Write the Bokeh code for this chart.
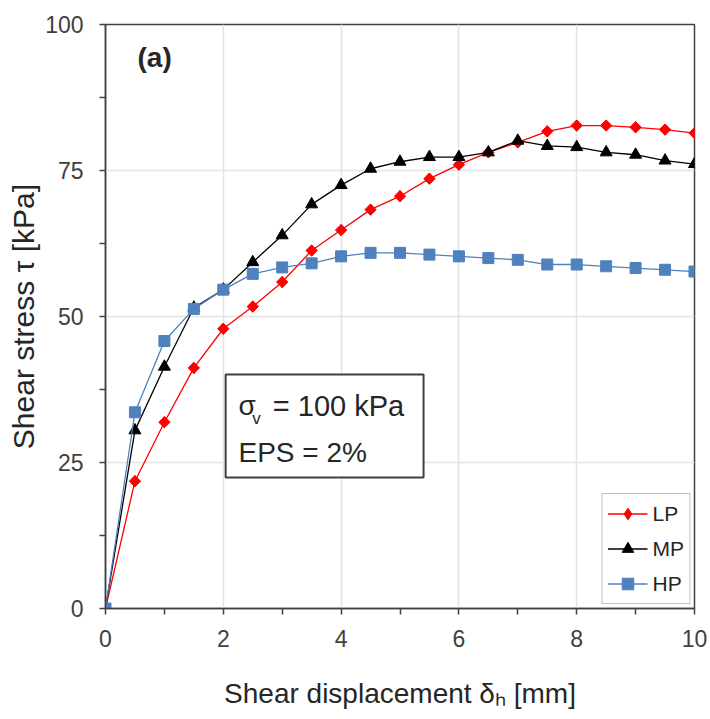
from bokeh.plotting import figure
from bokeh.models import FixedTicker, Label, BoxAnnotation, Legend, LegendItem, Range1d
from bokeh.embed import file_html
from bokeh.resources import INLINE

# ---- data ----
disp = [0, 0.5, 1, 1.5, 2, 2.5, 3, 3.5, 4, 4.5, 5, 5.5, 6, 6.5, 7, 7.5, 8, 8.5, 9, 9.5, 10]
lp = [0, 21.8, 31.9, 41.2, 47.9, 51.7, 55.9, 61.3, 64.8, 68.3, 70.6, 73.6, 76.0, 78.1, 79.8, 81.7, 82.7, 82.7, 82.4, 82.0, 81.4]
mp = [0, 30.5, 41.4, 51.5, 54.6, 59.3, 63.9, 69.2, 72.5, 75.3, 76.5, 77.3, 77.3, 78.1, 80.1, 79.2, 79.0, 78.1, 77.7, 76.7, 76.1]
hp = [0, 33.6, 45.8, 51.3, 54.6, 57.3, 58.4, 59.1, 60.3, 60.9, 60.9, 60.6, 60.3, 60.0, 59.7, 58.9, 58.9, 58.6, 58.3, 58.0, 57.7]
series_names = ["LP", "MP", "HP"]
x_ticks = [0, 2, 4, 6, 8, 10]
x_minor = [1, 3, 5, 7, 9]
y_ticks = [0, 25, 50, 75, 100]
y_minor = [12.5, 37.5, 62.5, 87.5]

FONT = "Liberation Sans"
TXT = "#262626"
AX = "#404040"

p = figure(frame_width=589, frame_height=584,
           x_range=Range1d(0, 10), y_range=Range1d(0, 100),
           output_backend="svg", toolbar_location=None,
           min_border_left=105, min_border_right=16,
           min_border_top=24, min_border_bottom=111)
p.background_fill_color = "white"
p.border_fill_color = "white"
p.outline_line_color = AX
p.outline_line_width = 1.5

p.xaxis.ticker = FixedTicker(ticks=x_ticks, minor_ticks=x_minor)
p.yaxis.ticker = FixedTicker(ticks=y_ticks, minor_ticks=y_minor)
for ax in (p.xaxis[0], p.yaxis[0]):
    ax.axis_line_color = AX
    ax.axis_line_width = 1.5
    ax.major_tick_line_color = AX
    ax.minor_tick_line_color = AX
    ax.major_tick_line_width = 1.5
    ax.minor_tick_line_width = 1.5
    ax.major_tick_out = 6
    ax.major_tick_in = 0
    ax.minor_tick_out = 6
    ax.minor_tick_in = 0
    ax.major_label_text_font = FONT
    ax.major_label_text_font_size = "23px"
    ax.major_label_text_color = AX
    ax.axis_label_text_font = FONT
    ax.axis_label_text_font_style = "normal"
    ax.axis_label_text_color = TXT
p.xaxis.major_label_standoff = 15
p.yaxis.major_label_standoff = 16

p.yaxis.axis_label = "Shear stress \u03c4 [kPa]"
p.yaxis.axis_label_text_font_size = "30px"
p.yaxis.axis_label_standoff = 2

p.xaxis.axis_label = "Shear displacement \u03b4\u2095 [mm]"
p.xaxis.axis_label_text_font_size = "28px"
p.xaxis.axis_label_standoff = 28

p.xgrid.grid_line_color = "#e3e3e3"
p.ygrid.grid_line_color = "#e3e3e3"
p.xgrid.grid_line_width = 1.5
p.ygrid.grid_line_width = 1.5

# ---- series ----
colors = ["#ff0000", "#000000", "#4f81bd"]
items = []
for name, ys, col in zip(series_names, [lp, mp, hp], colors):
    lr = p.line(disp, ys, line_color=col, line_width=1.3)
    if name == "LP":
        # diamond used for the legend; a rotated square on top gives the square diamond
        legend_r = p.scatter(disp, ys, marker="diamond", size=11,
                             fill_color=col, line_color=col)
        p.scatter(disp, ys, marker="square", size=8, angle=0.785398,
                  fill_color=col, line_color=col)
    elif name == "MP":
        legend_r = p.scatter(disp, ys, marker="triangle", size=12,
                             fill_color=col, line_color=col)
    else:
        legend_r = p.scatter(disp, ys, marker="square", size=11,
                             fill_color=col, line_color=col)
    items.append(LegendItem(label=name, renderers=[lr, legend_r]))

legend = Legend(items=items, location="bottom_right")
legend.label_text_font = FONT
legend.label_text_font_size = "21px"
legend.label_text_color = TXT
legend.border_line_color = "#7f7f7f"
legend.border_line_width = 1.5
legend.background_fill_color = "white"
legend.background_fill_alpha = 1
legend.glyph_width = 40
legend.glyph_height = 29
legend.spacing = 6
legend.padding = 5
legend.margin = 4
legend.label_standoff = 5
p.add_layout(legend, "center")

# ---- annotation box ----
box = BoxAnnotation(left=2.04, right=5.40, bottom=22.43, top=40.07,
                    fill_color="white", fill_alpha=1.0,
                    line_color=AX, line_width=2, line_alpha=1.0)
p.add_layout(box)

def lab(x, y, text, size, style="normal", align="left", baseline="middle"):
    l = Label(x=x, y=y, text=text, text_font=FONT, text_font_size=size,
              text_font_style=style, text_color=TXT, text_align=align,
              text_baseline=baseline)
    p.add_layout(l)
    return l

lab(2.258, 34.76, "\u03c3", "28px")
lab(2.49, 32.6, "v", "17px")
lab(2.84, 34.76, "= 100 kPa", "29px")
lab(2.258, 26.7, "EPS = 2%", "28px")
lab(0.543, 94.3, "(a)", "28px", style="bold")

open("out.html", "w").write(file_html(p, INLINE))
